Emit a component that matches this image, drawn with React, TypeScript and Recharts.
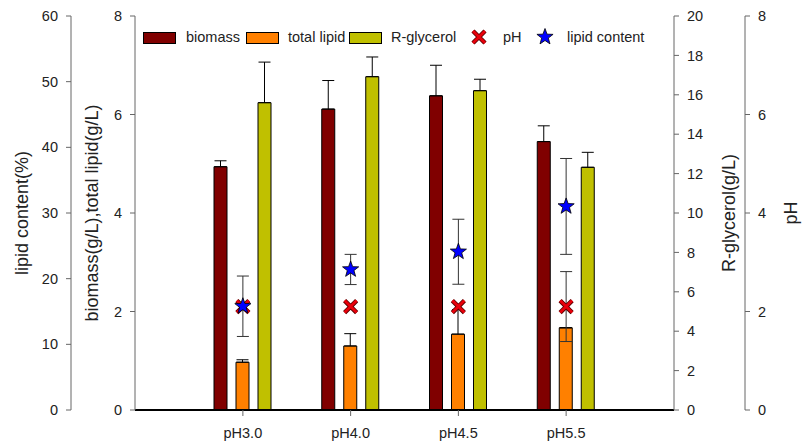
import { ComposedChart, Bar, Line, XAxis, YAxis, ErrorBar, Legend } from "recharts"

// culture conditions on the x axis
const categories = ["pH3.0", "pH4.0", "pH4.5", "pH5.5"]

// bars: biomass and total lipid (g/L, left inner axis), R-glycerol (g/L, right axis)
const biomass = [4.94, 6.11, 6.38, 5.45]
const biomassErr = [0.12, 0.58, 0.62, 0.32]
const totalLipid = [0.97, 1.3, 1.54, 1.67]
const totalLipidErr = [0.05, 0.25, 0.5, 0]
const glycerol = [15.6, 16.92, 16.21, 12.32]
const glycerolErr = [2.06, 1.0, 0.58, 0.76]

// markers: final pH (pH axis) and lipid content (%, left outer axis)
const finalPH = [2.1, 2.1, 2.1, 2.1]
const finalPHErr = [0, 0, 0, 0.71]
const lipidContent = [15.8, 21.4, 24.1, 31.0]
const lipidContentErr = [4.6, 2.3, 4.95, 7.3]

const lipidTicks = [0, 10, 20, 30, 40, 50, 60]
const massTicks = [0, 2, 4, 6, 8]
const glycerolTicks = [0, 2, 4, 6, 8, 10, 12, 14, 16, 18, 20]
const phTicks = [0, 2, 4, 6, 8]

// axis ids: "1" sits next to the plot, "2" outside it
const MASS_AXIS = "left1"
const LIPID_AXIS = "left2"
const GLYCEROL_AXIS = "right1"
const PH_AXIS = "right2"

const data = categories.map((name, i) => ({
  name,
  biomass: biomass[i],
  biomassErr: biomassErr[i],
  totalLipid: totalLipid[i],
  totalLipidErr: totalLipidErr[i],
  glycerol: glycerol[i],
  glycerolErr: glycerolErr[i],
  ph: finalPH[i],
  phErr: finalPHErr[i],
  lipidContent: lipidContent[i],
  lipidContentErr: lipidContentErr[i],
}))

const COLORS = {
  biomass: "#800000",
  totalLipid: "#ff8000",
  glycerol: "#c0c000",
  ph: "#e8000b",
  lipidContent: "#0000ff",
}

const FONT = "'Liberation Sans', Arial, sans-serif"
const TEXT = "#222"
const AXIS = "#666"
const tickStyle = { fontSize: 14.5, fill: TEXT, fontFamily: FONT }

function starPoints(cx: number, cy: number, outer: number, inner: number) {
  const pts: string[] = []
  for (let k = 0; k < 10; k++) {
    const r = k % 2 === 0 ? outer : inner
    const a = -Math.PI / 2 + (k * Math.PI) / 5
    pts.push(`${cx + r * Math.cos(a)},${cy + r * Math.sin(a)}`)
  }
  return pts.join(" ")
}

function XMark({ cx, cy }: { cx?: number; cy?: number }) {
  if (cx == null || cy == null) return null
  const d = `M${cx - 6},${cy - 6}L${cx + 6},${cy + 6}M${cx + 6},${cy - 6}L${cx - 6},${cy + 6}`
  return (
    <g>
      <path d={d} stroke="#5a0000" strokeWidth={4.5} />
      <path d={d} stroke={COLORS.ph} strokeWidth={2.8} />
    </g>
  )
}

function StarMark({ cx, cy }: { cx?: number; cy?: number }) {
  if (cx == null || cy == null) return null
  return <polygon points={starPoints(cx, cy, 8.5, 3.5)} fill={COLORS.lipidContent} stroke="#000" strokeWidth={0.8} />
}

function axisTitle(text: string, dx: number) {
  return (props: any) => {
    const vb = props.viewBox ?? { x: 0, y: 0, width: 0, height: 0 }
    const x = vb.x + dx
    const y = vb.y + vb.height / 2
    return (
      <text
        x={x}
        y={y}
        transform={`rotate(-90 ${x} ${y})`}
        textAnchor="middle"
        dominantBaseline="central"
        fontSize={18}
        fontFamily={FONT}
        fill={TEXT}
      >
        {text}
      </text>
    )
  }
}

const legendItems = [
  { label: "biomass", kind: "bar", color: COLORS.biomass, left: 0, textLeft: 43 },
  { label: "total lipid", kind: "bar", color: COLORS.totalLipid, left: 103, textLeft: 145 },
  { label: "R-glycerol", kind: "bar", color: COLORS.glycerol, left: 206, textLeft: 248 },
  { label: "pH", kind: "x", color: COLORS.ph, left: 327, textLeft: 360 },
  { label: "lipid content", kind: "star", color: COLORS.lipidContent, left: 393, textLeft: 424 },
]

function ChartLegend() {
  return (
    <div style={{ position: "relative", width: 520, height: 20, fontFamily: FONT, fontSize: 14.5, color: TEXT }}>
      {legendItems.map((item) => (
        <div key={item.label}>
          {item.kind === "bar" ? (
            <div
              style={{
                position: "absolute",
                left: item.left,
                top: 4,
                width: 31,
                height: 10,
                background: item.color,
                border: "1px solid #000",
              }}
            />
          ) : (
            <svg style={{ position: "absolute", left: item.left, top: 0 }} width={18} height={18}>
              {item.kind === "x" ? <XMark cx={9} cy={9} /> : <StarMark cx={9} cy={9} />}
            </svg>
          )}
          <span style={{ position: "absolute", left: item.textLeft, top: 0, lineHeight: "18px", whiteSpace: "nowrap" }}>
            {item.label}
          </span>
        </div>
      ))}
    </div>
  )
}

export default function App() {
  return (
    <div style={{ width: 803, height: 448, background: "#fff" }}>
      <style>{"body{margin:0}"}</style>
      <ComposedChart
        width={803}
        height={448}
        data={data}
        margin={{ top: 16, right: 0, bottom: 0, left: 0 }}
        barGap={9}
        style={{ fontFamily: FONT }}
      >
        <XAxis
          dataKey="name"
          padding={{ left: 54, right: 54 }}
          height={38}
          tick={tickStyle}
          tickSize={6}
          tickMargin={12}
          tickLine={{ stroke: AXIS }}
          axisLine={{ stroke: "#000", strokeWidth: 2 }}
        />
        <YAxis
          yAxisId={MASS_AXIS}
          orientation="left"
          width={64}
          domain={[0, 8]}
          ticks={massTicks}
          interval={0}
          tick={tickStyle}
          tickSize={5}
          tickMargin={8}
          tickLine={{ stroke: AXIS }}
          axisLine={{ stroke: AXIS }}
          label={{ content: axisTitle("biomass(g/L),total lipid(g/L)", 21) }}
        />
        <YAxis
          yAxisId={LIPID_AXIS}
          orientation="left"
          width={71}
          domain={[0, 60]}
          ticks={lipidTicks}
          interval={0}
          tick={tickStyle}
          tickSize={5}
          tickMargin={8}
          tickLine={{ stroke: AXIS }}
          axisLine={{ stroke: AXIS }}
          label={{ content: axisTitle("lipid content(%)", 22) }}
        />
        <YAxis
          yAxisId={GLYCEROL_AXIS}
          orientation="right"
          width={71}
          domain={[0, 20]}
          ticks={glycerolTicks}
          interval={0}
          tick={tickStyle}
          tickSize={5}
          tickMargin={8}
          tickLine={{ stroke: AXIS }}
          axisLine={{ stroke: AXIS }}
          label={{ content: axisTitle("R-glycerol(g/L)", 55) }}
        />
        <YAxis
          yAxisId={PH_AXIS}
          orientation="right"
          width={58}
          domain={[0, 8]}
          ticks={phTicks}
          interval={0}
          tick={tickStyle}
          tickSize={5}
          tickMargin={8}
          tickLine={{ stroke: AXIS }}
          axisLine={{ stroke: AXIS }}
          label={{ content: axisTitle("pH", 46) }}
        />
        <Legend
          verticalAlign="middle"
          align="center"
          content={() => <ChartLegend />}
          wrapperStyle={{ top: 28, left: 143, width: 520, height: 20 }}
        />
        <Bar
          yAxisId={MASS_AXIS}
          dataKey="biomass"
          fill={COLORS.biomass}
          stroke="#000"
          strokeWidth={1}
          barSize={13}
          isAnimationActive={false}
        >
          <ErrorBar dataKey={(d: any) => [0, d.biomassErr]} width={6} stroke="#000" strokeWidth={1} direction="y" />
        </Bar>
        <Bar
          yAxisId={MASS_AXIS}
          dataKey="totalLipid"
          fill={COLORS.totalLipid}
          stroke="#000"
          strokeWidth={1}
          barSize={13}
          isAnimationActive={false}
        >
          <ErrorBar dataKey={(d: any) => [0, d.totalLipidErr]} width={6} stroke="#000" strokeWidth={1} direction="y" />
        </Bar>
        <Bar
          yAxisId={GLYCEROL_AXIS}
          dataKey="glycerol"
          fill={COLORS.glycerol}
          stroke="#000"
          strokeWidth={1}
          barSize={13}
          isAnimationActive={false}
        >
          <ErrorBar dataKey={(d: any) => [0, d.glycerolErr]} width={6} stroke="#000" strokeWidth={1} direction="y" />
        </Bar>
        <Line
          yAxisId={PH_AXIS}
          dataKey="ph"
          stroke="none"
          dot={(p: any) => <XMark key={`ph-${p.index}`} cx={p.cx} cy={p.cy} />}
          activeDot={false}
          isAnimationActive={false}
        >
          <ErrorBar dataKey="phErr" width={6} stroke="#333" strokeWidth={1} direction="y" />
        </Line>
        <Line
          yAxisId={LIPID_AXIS}
          dataKey="lipidContent"
          stroke="none"
          dot={(p: any) => <StarMark key={`lc-${p.index}`} cx={p.cx} cy={p.cy} />}
          activeDot={false}
          isAnimationActive={false}
        >
          <ErrorBar dataKey="lipidContentErr" width={6} stroke="#333" strokeWidth={1} direction="y" />
        </Line>
      </ComposedChart>
    </div>
  )
}
